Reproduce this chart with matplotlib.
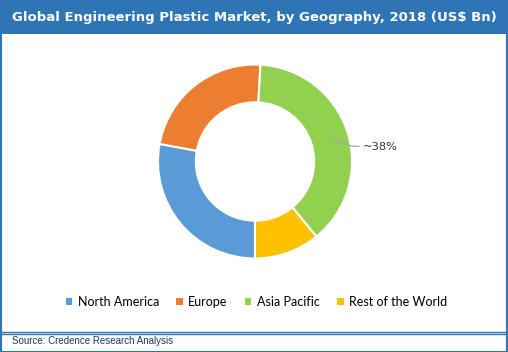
import numpy as np
import matplotlib
matplotlib.use("Agg")
import matplotlib.pyplot as plt
from matplotlib.patches import Rectangle, Patch
from matplotlib.lines import Line2D

regions = ["North America", "Europe", "Asia Pacific", "Rest of the World"]
shares = [27.9, 23.0, 38.2, 10.9]
colors = ["#5B9BD5", "#ED7D31", "#92D050", "#FFC000"]
label_idx = 2
label_text = "~38%"
title = "Global Engineering Plastic Market, by Geography, 2018 (US$ Bn)"
source = "Source: Credence Research Analysis"

W, H = 508, 352
frame_blue = "#2E75B6"

fig = plt.figure(figsize=(W / 100, H / 100), dpi=100)
fig.patch.set_facecolor("white")

# title bar
fig.patches.append(Rectangle((0, 1 - 34 / H), 1, 34 / H, transform=fig.transFigure,
                             facecolor=frame_blue, edgecolor="none", zorder=0))
fig.text(0.5, 1 - 17 / H, title, color="white", fontsize=9.5, fontweight="bold",
         family="DejaVu Sans", ha="center", va="center")

# outer frame
fig.patches.append(Rectangle((0.5 / W, 0.5 / H), 1 - 1.5 / W, 1 - 1.5 / H, transform=fig.transFigure,
                             facecolor="none", edgecolor=frame_blue, linewidth=1.5, zorder=5))
# double separator above source
for yy in (331.5, 334.0):
    fig.lines.append(Line2D([0, 1], [1 - yy / H, 1 - yy / H], transform=fig.transFigure,
                            color=frame_blue, linewidth=1.0))
fig.text(12 / W, 1 - 341 / H, source, color="#1F3864", fontsize=7, family="Liberation Sans",
         ha="left", va="center")

# donut
cx, cy, r = 255, 161.5, 97
ax = fig.add_axes([(cx - r) / W, (H - cy - r) / H, 2 * r / W, 2 * r / H])
wedges, _ = ax.pie(shares, colors=colors, startangle=-90, counterclock=False, radius=1.0,
                   wedgeprops=dict(width=0.39, edgecolor="white", linewidth=1.5))
ax.set_xlim(-1, 1)
ax.set_ylim(-1, 1)
ax.set_aspect("equal")
ax.axis("off")

w = wedges[label_idx]
ang = np.deg2rad((w.theta1 + w.theta2) / 2)
p0 = (0.8 * np.cos(ang), 0.8 * np.sin(ang))
p1 = (1.0, 0.8 * np.sin(ang) - 0.09)
p2 = (1.07, p1[1])
ax.plot([p0[0], p1[0], p2[0]], [p0[1], p1[1], p2[1]], color="#A6A6A6", linewidth=0.9,
        clip_on=False)
ax.text(p2[0] + 0.04, p2[1] - 0.01, label_text, color="#333333", fontsize=8.2,
        family="DejaVu Sans", ha="left", va="center", clip_on=False)

handles = [Patch(facecolor=c, edgecolor="none", label=n) for c, n in zip(colors, regions)]
fig.legend(handles=handles, loc="center", bbox_to_anchor=(0.505, 1 - 302 / H), ncol=4,
           frameon=False, handlelength=0.5, handleheight=0.5, handletextpad=0.45,
           columnspacing=1.4, prop={"family": "Lato", "size": 9})

fig.savefig("out.png", dpi=100)
